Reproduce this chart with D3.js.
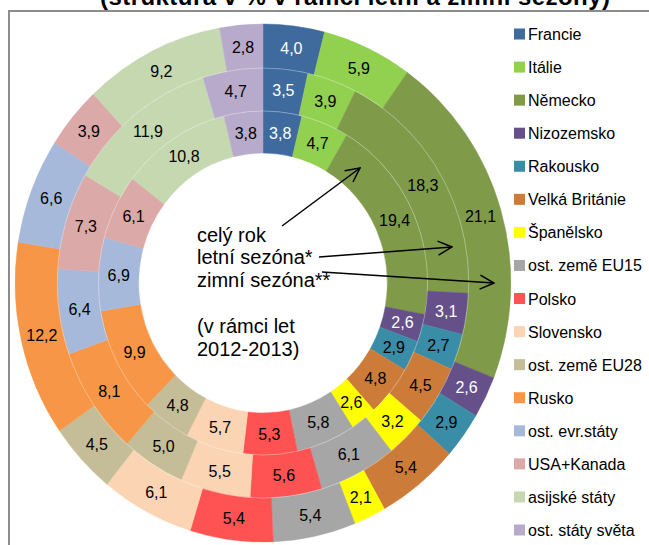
<!DOCTYPE html>
<html>
<head>
<meta charset="utf-8">
<script src="https://cdn.jsdelivr.net/npm/d3@7"></script>
<style>
  body { margin: 0; background: #fff; }
  svg { display: block; font-family: Arial, "Liberation Sans", sans-serif; }
</style>
</head>
<body>
<div id="chart"></div>
<script>
// countries, in the order Excel draws them (clockwise from 12 o'clock)
const countries = ['Francie', 'Itálie', 'Německo', 'Nizozemsko', 'Rakousko', 'Velká Británie',
  'Španělsko', 'ost. země EU15', 'Polsko', 'Slovensko', 'ost. země EU28', 'Rusko',
  'ost. evr.státy', 'USA+Kanada', 'asijské státy', 'ost. státy světa'];
const colors = ['#3F6A9E', '#92D050', '#7F9A48', '#66508A', '#3A8DA6', '#CD7B38',
  '#FFFF00', '#A6A6A6', '#FF5252', '#FBD4B4', '#C4BD97', '#F79646',
  '#A7B9DA', '#DAA9A8', '#C6D8B0', '#B8AACB'];
const whiteText = ['Francie', 'Nizozemsko'];

// shares in %
const celyRok    = [3.8, 4.7, 19.4, 2.6, 2.9, 4.8, 2.6, 5.8, 5.3, 5.7, 4.8, 9.9, 6.9, 6.1, 10.8, 3.8];
const letniSez   = [3.5, 3.9, 18.3, 3.1, 2.7, 4.5, 3.2, 6.1, 5.6, 5.5, 5.0, 8.1, 6.4, 7.3, 11.9, 4.7];
const zimniSez   = [4.0, 5.9, 21.1, 2.6, 2.9, 5.4, 2.1, 5.4, 5.4, 6.1, 4.5, 12.2, 6.6, 3.9, 9.2, 2.8];

const title = '(struktura v % v rámci letní a zimní sezóny)';
const centerLines = ['celý rok', 'letní sezóna*', 'zimní sezóna**', '', '(v rámci let', '2012-2013)'];

const W = 649, H = 545;
const cx = 263, cy = 283;
const sx = 0.957; // the picture is a bit squashed horizontally
const radii = [130, 172, 215, 259];
const rings = [celyRok, letniSez, zimniSez];

const svg = d3.select('#chart').append('svg')
  .attr('width', W)
  .attr('height', H);

svg.append('defs').append('marker')
  .attr('id', 'arrow')
  .attr('markerUnits', 'userSpaceOnUse')
  .attr('viewBox', '0 0 16 16')
  .attr('refX', 15).attr('refY', 8)
  .attr('markerWidth', 16).attr('markerHeight', 16)
  .attr('orient', 'auto')
  .append('path')
  .attr('d', 'M1,1 L15,8 L1,15')
  .attr('fill', 'none')
  .attr('stroke', '#000')
  .attr('stroke-width', 1.5);

// title, mostly cut off above the frame
svg.append('text')
  .attr('x', 100).attr('y', 5)
  .attr('font-size', 24)
  .attr('font-weight', 'bold')
  .attr('textLength', 510)
  .text(title);

// frame
svg.append('path')
  .attr('d', `M9,${H} L9,11 L${W},11`)
  .attr('fill', 'none')
  .attr('stroke', '#8c8c8c')
  .attr('stroke-width', 2);

const pie = d3.pie().sort(null).value(d => d);
const arcsG = svg.append('g')
  .attr('transform', `translate(${cx},${cy}) scale(${sx},1)`);
const labelsG = svg.append('g');

rings.forEach((vals, ri) => {
  const arc = d3.arc().innerRadius(radii[ri]).outerRadius(radii[ri + 1]);
  const slices = pie(vals);
  arcsG.selectAll('.s' + ri)
    .data(slices)
    .join('path')
    .attr('class', 's' + ri)
    .attr('d', arc)
    .attr('fill', (d, i) => colors[i])
    .attr('stroke', (d, i) => colors[i])
    .attr('stroke-width', 0.5);
  // faint light line between rings
  if (ri > 0) {
    arcsG.append('circle')
      .attr('r', radii[ri])
      .attr('fill', 'none')
      .attr('stroke', '#fff')
      .attr('stroke-opacity', 0.4)
      .attr('stroke-width', 0.8);
  }
  labelsG.selectAll('.l' + ri)
    .data(slices)
    .join('text')
    .attr('class', 'l' + ri)
    .attr('x', d => cx + arc.centroid(d)[0] * sx)
    .attr('y', d => cy + arc.centroid(d)[1])
    .attr('dy', '0.36em')
    .attr('text-anchor', 'middle')
    .attr('font-size', 16)
    .attr('fill', (d, i) => whiteText.includes(countries[i]) ? '#fff' : '#000')
    .text(d => d3.format('.1f')(d.data).replace('.', ','));
});

// centre annotation
const centerG = svg.append('g');
const lineYs = [242, 264, 287, 0, 333, 356];
centerLines.forEach((t, i) => {
  if (!t) return;
  centerG.append('text')
    .attr('x', 197).attr('y', lineYs[i])
    .attr('font-size', 20)
    .text(t);
});

// arrows from the annotation to the rings
const arrows = [
  [[282, 226], [360, 168]],
  [[319, 257], [452, 247]],
  [[322, 272], [494, 283]]
];
svg.selectAll('.arrow')
  .data(arrows)
  .join('line')
  .attr('class', 'arrow')
  .attr('x1', d => d[0][0]).attr('y1', d => d[0][1])
  .attr('x2', d => d[1][0]).attr('y2', d => d[1][1])
  .attr('stroke', '#000')
  .attr('stroke-width', 1.5)
  .attr('marker-end', 'url(#arrow)');

// legend
const legY = d3.scaleLinear().domain([0, countries.length - 1]).range([34, 530]);
const leg = svg.selectAll('.leg')
  .data(countries)
  .join('g')
  .attr('class', 'leg')
  .attr('transform', (d, i) => `translate(514,${legY(i)})`);
leg.append('rect')
  .attr('x', 0).attr('y', -5.5)
  .attr('width', 11).attr('height', 11)
  .attr('fill', (d, i) => colors[i]);
leg.append('text')
  .attr('x', 14).attr('y', 6)
  .attr('font-size', 16)
  .text(d => d);
</script>
</body>
</html>
